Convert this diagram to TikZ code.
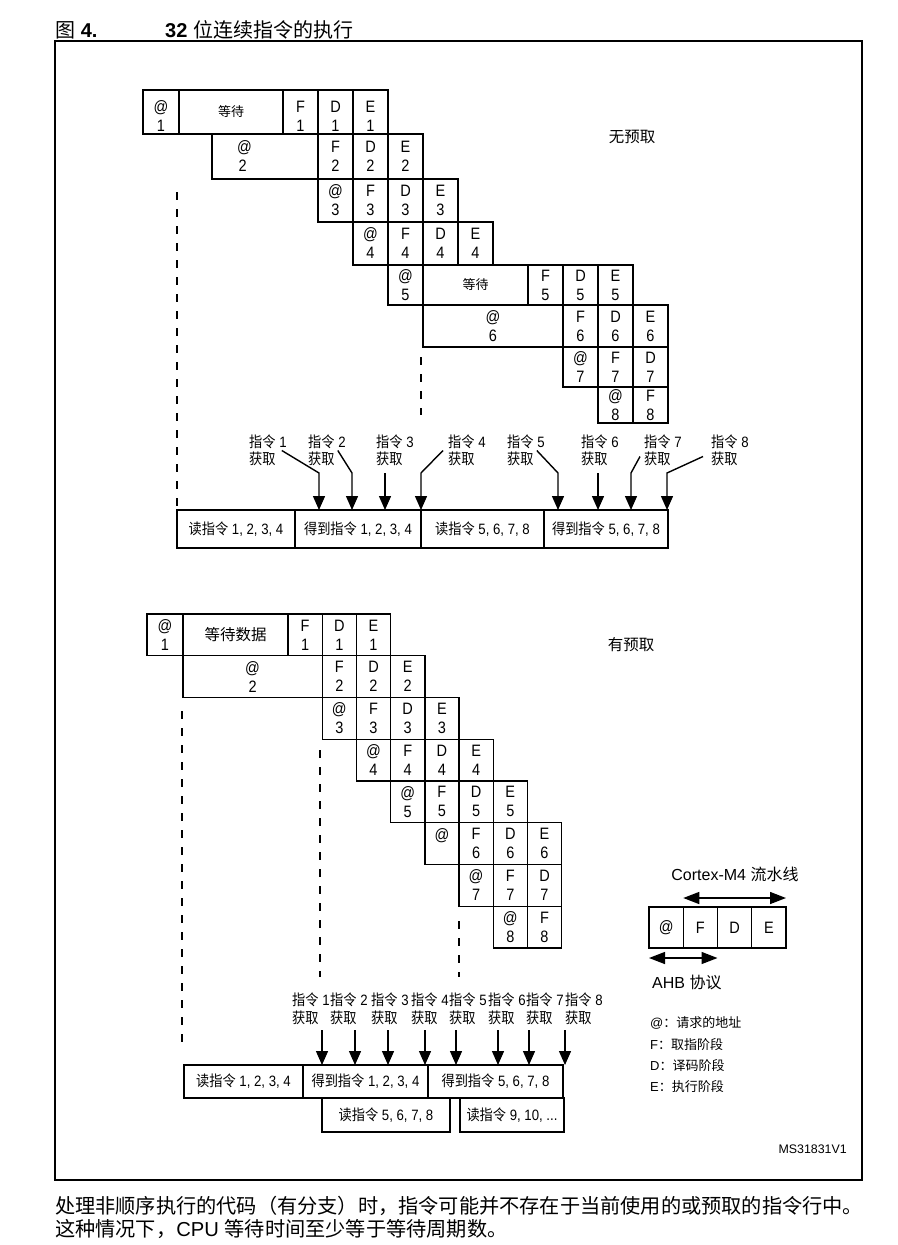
\documentclass[tikz,border=0pt]{standalone}
\usepackage{fontspec}
\setmainfont{Liberation Sans}
\newfontfamily\cjkfont{Noto Sans CJK SC}
\newfontfamily\cellfam[FakeStretch=0.88]{Liberation Sans}
\newfontfamily\cjkcond[FakeStretch=0.88]{Noto Sans CJK SC}
\usetikzlibrary{arrows.meta,positioning}
\newcommand{\zh}[1]{{\cjkfont #1}}
\newcommand{\zc}[1]{{\cjkcond #1}}
\newcommand{\cellfont}{\cellfam\fontsize{16.5}{19}\selectfont}
\newcommand{\labfont}{\cellfam\fontsize{15}{17.5}\selectfont}
\newcommand{\waitfont}{\fontsize{13}{16}\selectfont}
\newcommand{\keyfont}{\fontsize{15.5}{18}\selectfont}
\tikzset{
  cell/.style={draw, line width=1.4pt, outer sep=0pt, inner sep=0pt,
    minimum width=35pt, minimum height=#1, align=center, font=\cellfont},
  cell/.default=41.75pt,
  busbox/.style={draw, line width=1.4pt, outer sep=0pt, inner sep=0pt,
    anchor=north west, align=center, font=\labfont},
  lab/.style={align=left, inner sep=0pt, anchor=west, font=\labfont},
  keyline/.style={inner sep=0pt, anchor=west, font=\fontsize{13}{16}\selectfont},
  arr/.style={-{Triangle[length=14pt,width=12pt]}, line width=1.4pt},
  dblarr/.style={{Triangle[length=16pt,width=12pt]}-{Triangle[length=16pt,width=12pt]},
    line width=1.4pt},
  dashline/.style={dashed, dash pattern=on 8pt off 9pt, line width=1.4pt},
}

\begin{document}
\begin{tikzpicture}[x=1pt, y=-1pt]
  \fill[white] (0,0) rectangle (897,1245);

  % Title and frame
  \node[anchor=west, inner sep=0pt, font=\fontsize{20}{24}\selectfont] (fig) at (55,30)
    {\zh{图} \textbf{4.}};
  \node[anchor=west, inner sep=0pt, font=\fontsize{20}{24}\selectfont] (title) at (165,30)
    {\textbf{32} \zh{位连续指令的执行}};
  \draw[line width=1.5pt] (55,41) rectangle (862,1180);

  % No prefetch
  \node[cell=44pt, minimum width=36pt, text height=39pt, anchor=north west] (a1) at (143,90) {@\\1};
  \node[cell=44pt, minimum width=104pt, right=0pt of a1, font=\waitfont] (w1) {\zh{等待}};
  \node[cell=44pt, text height=39pt, right=0pt of w1] (f1) {F\\1};
  \node[cell=44pt, text height=39pt, right=0pt of f1] (d1) {D\\1};
  \node[cell=44pt, text height=39pt, right=0pt of d1] (e1) {E\\1};

  \node[cell=45pt, below=0pt of d1] (f2) {F\\2};
  \node[cell=45pt, text width=106pt, align=left, left=0pt of f2] (a2)
    {\hspace*{25pt}@\\\hspace*{26.5pt}2};
  \node[cell=45pt, right=0pt of f2] (d2) {D\\2};
  \node[cell=45pt, right=0pt of d2] (e2) {E\\2};

  \node[cell=43pt, below=0pt of f2] (a3) {@\\3};
  \node[cell=43pt, right=0pt of a3] (f3) {F\\3};
  \node[cell=43pt, right=0pt of f3] (d3) {D\\3};
  \node[cell=43pt, right=0pt of d3] (e3) {E\\3};

  \node[cell=43pt, below=0pt of f3] (a4) {@\\4};
  \node[cell=43pt, right=0pt of a4] (f4) {F\\4};
  \node[cell=43pt, right=0pt of f4] (d4) {D\\4};
  \node[cell=43pt, right=0pt of d4] (e4) {E\\4};

  \node[cell=40pt, below=0pt of f4] (a5) {@\\5};
  \node[cell=40pt, minimum width=105pt, right=0pt of a5, font=\waitfont] (w5) {\zh{等待}};
  \node[cell=40pt, right=0pt of w5] (f5) {F\\5};
  \node[cell=40pt, right=0pt of f5] (d5) {D\\5};
  \node[cell=40pt, right=0pt of d5] (e5) {E\\5};

  \node[cell=42pt, below=0pt of d5] (f6) {F\\6};
  \node[cell=42pt, minimum width=140pt, left=0pt of f6] (a6) {@\\6};
  \node[cell=42pt, right=0pt of f6] (d6) {D\\6};
  \node[cell=42pt, right=0pt of d6] (e6) {E\\6};

  \node[cell=40pt, below=0pt of f6] (a7) {@\\7};
  \node[cell=40pt, right=0pt of a7] (f7) {F\\7};
  \node[cell=40pt, right=0pt of f7] (d7) {D\\7};

  \node[cell=36pt, below=0pt of f7] (a8) {@\\8};
  \node[cell=36pt, right=0pt of a8] (f8) {F\\8};

  \node[font=\keyfont] (nopf) at (632,137) {\zh{无预取}};

  % Bus cycles, no prefetch
  \node[busbox, minimum width=118pt, minimum height=38pt] (r1) at (177,510)
    {\zc{读指令} 1, 2, 3, 4};
  \node[busbox, minimum width=126pt, minimum height=38pt, right=0pt of r1] (r2)
    {\zc{得到指令} 1, 2, 3, 4};
  \node[busbox, minimum width=123pt, minimum height=38pt, right=0pt of r2] (r3)
    {\zc{读指令} 5, 6, 7, 8};
  \node[busbox, minimum width=124pt, minimum height=38pt, right=0pt of r3] (r4)
    {\zc{得到指令} 5, 6, 7, 8};

  \node[lab] (l1) at (249,450.5) {\zc{指令} 1\\\zc{获取}};
  \node[lab] (l2) at (308,450.5) {\zc{指令} 2\\\zc{获取}};
  \node[lab] (l3) at (376,450.5) {\zc{指令} 3\\\zc{获取}};
  \node[lab] (l4) at (448,450.5) {\zc{指令} 4\\\zc{获取}};
  \node[lab] (l5) at (507,450.5) {\zc{指令} 5\\\zc{获取}};
  \node[lab] (l6) at (581,450.5) {\zc{指令} 6\\\zc{获取}};
  \node[lab] (l7) at (644,450.5) {\zc{指令} 7\\\zc{获取}};
  \node[lab] (l8) at (711,450.5) {\zc{指令} 8\\\zc{获取}};

  \coordinate (k1) at (319,473);
  \coordinate (k2) at (352,473);
  \coordinate (k3) at (385,473);
  \coordinate (k4) at (421,473);
  \coordinate (k5) at (558,473);
  \coordinate (k6) at (598,473);
  \coordinate (k7) at (631,473);
  \coordinate (k8) at (667,473);
  \draw[arr] ([xshift=-5pt]l1.east) -- (k1) -- (k1 |- r2.north);
  \draw[arr] ([xshift=-8pt]l2.east) -- (k2) -- (k2 |- r2.north);
  \draw[arr] (k3) -- (k3 |- r2.north);
  \draw[arr] ([xshift=-5pt]l4.west) -- (k4) -- (k4 |- r2.north);
  \draw[arr] ([xshift=-8pt]l5.east) -- (k5) -- (k5 |- r4.north);
  \draw[arr] (k6) -- (k6 |- r4.north);
  \draw[arr] ([shift={(-4pt,-6pt)}]l7.west) -- (k7) -- (k7 |- r4.north);
  \draw[arr] ([shift={(-8pt,-6pt)}]l8.west) -- (k8) -- (k8 |- r4.north);

  \coordinate (t1) at (177,192);
  \coordinate (t2) at (421,357);
  \coordinate (t3) at (421,415);
  \draw[dashline] (t1) -- (r1.north west);
  \draw[dashline] (t2) -- (t3);

  % With prefetch
  \begin{scope}[cell/.append style={minimum width=34.2pt}]
  \node[cell, minimum width=36pt, anchor=north west] (pa1) at (147,614) {@\\1};
  \node[cell, minimum width=105pt, right=0pt of pa1, font=\keyfont] (pw1) {\zh{等待数据}};
  \node[cell, right=0pt of pw1] (pf1) {F\\1};
  \node[cell, right=0pt of pf1] (pd1) {D\\1};
  \node[cell, right=0pt of pd1] (pe1) {E\\1};

  \node[cell, below=0pt of pd1] (pf2) {F\\2};
  \node[cell, minimum width=139.2pt, left=0pt of pf2] (pa2) {@\\2};
  \node[cell, right=0pt of pf2] (pd2) {D\\2};
  \node[cell, right=0pt of pd2] (pe2) {E\\2};

  \node[cell, below=0pt of pf2] (pa3) {@\\3};
  \node[cell, right=0pt of pa3] (pf3) {F\\3};
  \node[cell, right=0pt of pf3] (pd3) {D\\3};
  \node[cell, right=0pt of pd3] (pe3) {E\\3};

  \node[cell, below=0pt of pf3] (pa4) {@\\4};
  \node[cell, right=0pt of pa4] (pf4) {F\\4};
  \node[cell, right=0pt of pf4] (pd4) {D\\4};
  \node[cell, right=0pt of pd4] (pe4) {E\\4};

  \node[cell, below=0pt of pf4] (pa5) {@\\5};
  \node[cell, right=0pt of pa5] (pf5) {F\\5};
  \node[cell, right=0pt of pf5] (pd5) {D\\5};
  \node[cell, right=0pt of pd5] (pe5) {E\\5};

  \node[cell, below=0pt of pf5] (pa6) {@\\\phantom{6}};
  \node[cell, right=0pt of pa6] (pf6) {F\\6};
  \node[cell, right=0pt of pf6] (pd6) {D\\6};
  \node[cell, right=0pt of pd6] (pe6) {E\\6};

  \node[cell, below=0pt of pf6] (pa7) {@\\7};
  \node[cell, right=0pt of pa7] (pf7) {F\\7};
  \node[cell, right=0pt of pf7] (pd7) {D\\7};

  \node[cell, below=0pt of pf7] (pa8) {@\\8};
  \node[cell, right=0pt of pa8] (pf8) {F\\8};
  \end{scope}

  \node[font=\keyfont] (withpf) at (631,645) {\zh{有预取}};

  % Bus cycles, with prefetch
  \node[busbox, minimum width=119pt, minimum height=33pt] (s1) at (184,1065)
    {\zc{读指令} 1, 2, 3, 4};
  \node[busbox, minimum width=125pt, minimum height=33pt, right=0pt of s1] (s2)
    {\zc{得到指令} 1, 2, 3, 4};
  \node[busbox, minimum width=135pt, minimum height=33pt, right=0pt of s2] (s3)
    {\zc{得到指令} 5, 6, 7, 8};
  \node[busbox, minimum width=128pt, minimum height=34pt] (s4) at (322,1098)
    {\zc{读指令} 5, 6, 7, 8};
  \node[busbox, minimum width=104pt, minimum height=34pt] (s5) at (460,1098)
    {\zc{读指令} 9, 10, ...};

  \node[lab] (m1) at (292,1009) {\zc{指令} 1\\\zc{获取}};
  \node[lab] (m2) at (330,1009) {\zc{指令} 2\\\zc{获取}};
  \node[lab] (m3) at (371,1009) {\zc{指令} 3\\\zc{获取}};
  \node[lab] (m4) at (411,1009) {\zc{指令} 4\\\zc{获取}};
  \node[lab] (m5) at (449,1009) {\zc{指令} 5\\\zc{获取}};
  \node[lab] (m6) at (488,1009) {\zc{指令} 6\\\zc{获取}};
  \node[lab] (m7) at (526,1009) {\zc{指令} 7\\\zc{获取}};
  \node[lab] (m8) at (565,1009) {\zc{指令} 8\\\zc{获取}};

  \coordinate (j1) at (322,1030);
  \coordinate (j2) at (355,1030);
  \coordinate (j3) at (388,1030);
  \coordinate (j4) at (425,1030);
  \coordinate (j5) at (456,1030);
  \coordinate (j6) at (498,1030);
  \coordinate (j7) at (529,1030);
  \coordinate (j8) at (565,1030);
  \draw[arr] (j1) -- (j1 |- s2.north);
  \draw[arr] (j2) -- (j2 |- s2.north);
  \draw[arr] (j3) -- (j3 |- s2.north);
  \draw[arr] (j4) -- (j4 |- s2.north);
  \draw[arr] (j5) -- (j5 |- s3.north);
  \draw[arr] (j6) -- (j6 |- s3.north);
  \draw[arr] (j7) -- (j7 |- s3.north);
  \draw[arr] (j8) -- (j8 |- s3.north);

  \coordinate (u1) at (182,711);
  \coordinate (v1) at (182,1043);
  \coordinate (u2) at (320,750);
  \coordinate (v2) at (320,977);
  \coordinate (u3) at (459,921);
  \coordinate (v3) at (459,977);
  \draw[dashline] (u1) -- (v1);
  \draw[dashline] (u2) -- (v2);
  \draw[dashline] (u3) -- (v3);

  % Legend
  \node[font=\fontsize{16}{19}\selectfont] (pipe) at (735,874) {Cortex-M4 \zh{流水线}};
  \node[cell=41pt, minimum width=34.25pt, anchor=north west] (g1) at (649,907) {@};
  \node[cell=41pt, minimum width=34.25pt, right=0pt of g1] (g2) {F};
  \node[cell=41pt, minimum width=34.25pt, right=0pt of g2] (g3) {D};
  \node[cell=41pt, minimum width=34.25pt, right=0pt of g3] (g4) {E};
  \draw[dblarr] ([yshift=9pt]g2.north west) -- ([yshift=9pt]g4.north east);
  \draw[dblarr] ([yshift=-10pt]g1.south west) -- ([yshift=-10pt]g2.south east);
  \node[anchor=west, inner sep=0pt, font=\fontsize{16}{19}\selectfont] (ahb) at (652,982)
    {AHB \zh{协议}};
  \node[keyline] (keya) at (650,1023) {@\zh{：请求的地址}};
  \node[keyline] (keyf) at (650,1045) {F\zh{：取指阶段}};
  \node[keyline] (keyd) at (650,1066) {D\zh{：译码阶段}};
  \node[keyline] (keye) at (650,1087) {E\zh{：执行阶段}};
  \node[anchor=east, inner sep=0pt, font=\fontsize{12.4}{14}\selectfont] (ref) at (847,1149)
    {MS31831V1};

  % Caption
  \node[anchor=north west, align=left, inner sep=0pt, font=\fontsize{20.2}{23}\selectfont]
    (note) at (55,1196)
    {\zh{处理非顺序执行的代码（有分支）时，指令可能并不存在于当前使用的或预取的指令行中。}\\
     \zh{这种情况下，}CPU \zh{等待时间至少等于等待周期数。}};
\end{tikzpicture}
\end{document}
